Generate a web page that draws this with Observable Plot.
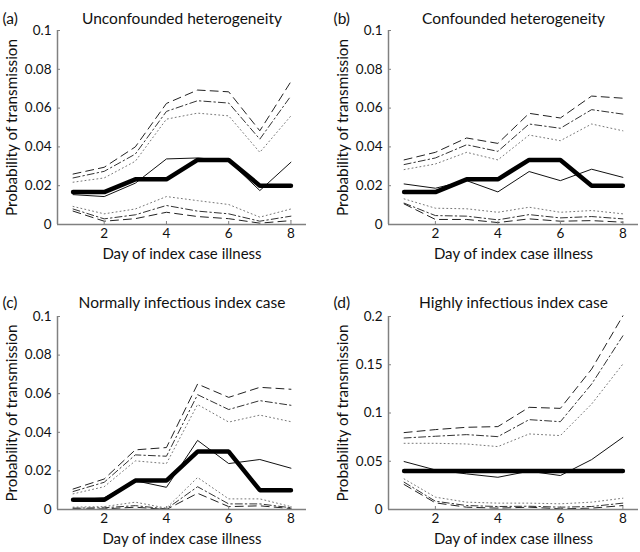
<!DOCTYPE html>
<html>
<head>
<meta charset="utf-8">
<script src="https://cdn.jsdelivr.net/npm/d3@7"></script>
<script src="https://cdn.jsdelivr.net/npm/@observablehq/plot@0.6"></script>
<style>
  html, body { margin: 0; padding: 0; background: #fff; }
  #wrap { position: relative; width: 640px; height: 552px; }
  #wrap > div { position: absolute; }
</style>
</head>
<body>
<div id="wrap">
  <div id="pa" style="left:0;top:0"></div>
  <div id="pb" style="left:331px;top:0"></div>
  <div id="pc" style="left:0;top:276px"></div>
  <div id="pd" style="left:331px;top:276px"></div>
</div>
<script>
const days = [1, 2, 3, 4, 5, 6, 7, 8];
const xTicks = [2, 4, 6, 8];
const yTicksLow = [0, 0.02, 0.04, 0.06, 0.08, 0.1];
const yTicksHigh = [0, 0.05, 0.1, 0.15, 0.2];

// (a) Unconfounded heterogeneity
const aTrue      = [0.0167, 0.0167, 0.0233, 0.0233, 0.0333, 0.0333, 0.020, 0.020];
const aEst       = [0.0154, 0.0144, 0.0213, 0.0338, 0.0343, 0.0329, 0.0175, 0.0321];
const aUpDash    = [0.0260, 0.0295, 0.0400, 0.0624, 0.0693, 0.0684, 0.0483, 0.0737];
const aUpDashDot = [0.0240, 0.0274, 0.0363, 0.0583, 0.0638, 0.0626, 0.0440, 0.0663];
const aUpDot     = [0.0218, 0.0240, 0.0326, 0.0543, 0.0574, 0.0560, 0.0372, 0.0560];
const aLoDot     = [0.0093, 0.0055, 0.0080, 0.0144, 0.0123, 0.0103, 0.0038, 0.0080];
const aLoDashDot = [0.0080, 0.0029, 0.0050, 0.0098, 0.0069, 0.0055, 0.0017, 0.0043];
const aLoDash    = [0.0069, 0.0017, 0.0030, 0.0063, 0.0041, 0.0030, 0.0007, 0.0020];

// (b) Confounded heterogeneity
const bTrue      = [0.0167, 0.0167, 0.0233, 0.0233, 0.0333, 0.0333, 0.020, 0.020];
const bEst       = [0.0209, 0.0187, 0.0226, 0.0168, 0.0273, 0.0226, 0.0285, 0.0243];
const bUpDash    = [0.0333, 0.0372, 0.0446, 0.0418, 0.0573, 0.0549, 0.0662, 0.0651];
const bUpDashDot = [0.0309, 0.0343, 0.0411, 0.0377, 0.0518, 0.0496, 0.0592, 0.0569];
const bUpDot     = [0.0283, 0.0312, 0.0372, 0.0333, 0.0461, 0.0432, 0.0518, 0.0483];
const bLoDot     = [0.0132, 0.0084, 0.0081, 0.0063, 0.0089, 0.0063, 0.0072, 0.0055];
const bLoDashDot = [0.0110, 0.0046, 0.0043, 0.0024, 0.0051, 0.0034, 0.0041, 0.0029];
const bLoDash    = [0.0106, 0.0026, 0.0026, 0.0010, 0.0029, 0.0017, 0.0020, 0.0012];

// (c) Normally infectious index case
const cTrue      = [0.005, 0.005, 0.015, 0.015, 0.030, 0.030, 0.010, 0.010];
const cEst       = [0.0050, 0.0060, 0.0149, 0.0115, 0.0358, 0.0238, 0.0259, 0.0214];
const cUpDash    = [0.0106, 0.0158, 0.0309, 0.0321, 0.0650, 0.0581, 0.0633, 0.0623];
const cUpDashDot = [0.0093, 0.0141, 0.0283, 0.0276, 0.0595, 0.0518, 0.0564, 0.0540];
const cUpDot     = [0.0081, 0.0118, 0.0252, 0.0238, 0.0544, 0.0453, 0.0489, 0.0455];
const cLoDot     = [0.0012, 0.0015, 0.0038, 0.0007, 0.0166, 0.0055, 0.0055, 0.0015];
const cLoDashDot = [0.0007, 0.0009, 0.0020, 0.0003, 0.0118, 0.0029, 0.0029, 0.0009];
const cLoDash    = [0.0003, 0.0003, 0.0012, 0.0000, 0.0084, 0.0015, 0.0019, 0.0005];

// (d) Highly infectious index case
const dTrue      = [0.04, 0.04, 0.04, 0.04, 0.04, 0.04, 0.04, 0.04];
const dEst       = [0.0497, 0.0410, 0.0369, 0.0334, 0.0397, 0.0352, 0.0517, 0.0748];
const dUpDash    = [0.0797, 0.0828, 0.0852, 0.0859, 0.1059, 0.1048, 0.1455, 0.2007];
const dUpDashDot = [0.0741, 0.0759, 0.0776, 0.0755, 0.0931, 0.0910, 0.1300, 0.1800];
const dUpDot     = [0.0686, 0.0686, 0.0679, 0.0652, 0.0783, 0.0766, 0.1093, 0.1507];
const dLoDot     = [0.0317, 0.0128, 0.0076, 0.0066, 0.0066, 0.0059, 0.0076, 0.0117];
const dLoDashDot = [0.0283, 0.0086, 0.0041, 0.0031, 0.0034, 0.0024, 0.0031, 0.0066];
const dLoDash    = [0.0259, 0.0069, 0.0024, 0.0014, 0.0024, 0.0007, 0.0014, 0.0041];

const panels = [
  {id: "pa", tag: "(a)", title: "Unconfounded heterogeneity", top: true, left: true, yMax: 0.1, yTicks: yTicksLow,
   s: [aTrue, aEst, aUpDash, aUpDashDot, aUpDot, aLoDot, aLoDashDot, aLoDash]},
  {id: "pb", tag: "(b)", title: "Confounded heterogeneity", top: true, left: false, yMax: 0.1, yTicks: yTicksLow,
   s: [bTrue, bEst, bUpDash, bUpDashDot, bUpDot, bLoDot, bLoDashDot, bLoDash]},
  {id: "pc", tag: "(c)", title: "Normally infectious index case", top: false, left: true, yMax: 0.1, yTicks: yTicksLow,
   s: [cTrue, cEst, cUpDash, cUpDashDot, cUpDot, cLoDot, cLoDashDot, cLoDash]},
  {id: "pd", tag: "(d)", title: "Highly infectious index case", top: false, left: false, yMax: 0.2, yTicks: yTicksHigh,
   s: [dTrue, dEst, dUpDash, dUpDashDot, dUpDot, dLoDot, dLoDashDot, dLoDash]}
];

const styles = {
  dash:    {stroke: "#222", strokeWidth: 1, strokeDasharray: "8,5"},
  dashdot: {stroke: "#333", strokeWidth: 1, strokeDasharray: "7,3,1.5,3"},
  dot:     {stroke: "#777", strokeWidth: 1, strokeDasharray: "1,3"}
};

const FONT = "Lato, 'Open Sans', sans-serif";
const AXIS = "#808080";

function rows(arr) { return days.map((d, i) => ({day: d, p: arr[i]})); }

for (const P of panels) {
  const [tru, est, upDash, upDashDot, upDot, loDot, loDashDot, loDash] = P.s;
  const width = P.left ? 331 : 309;
  const mt = P.top ? 30 : 40;
  const mb = P.top ? 52 : 43;
  const line = (arr, o) => Plot.line(rows(arr), {x: "day", y: "p", strokeLinejoin: "miter", ...o});
  const chart = Plot.plot({
    width, height: 276,
    marginLeft: 57, marginRight: P.left ? 25 : 2, marginTop: mt, marginBottom: mb,
    style: {fontFamily: FONT, fontSize: "13.5px", background: "white", color: "#111", overflow: "visible"},
    x: {domain: [0.5, 8.5]},
    y: {domain: [0, P.yMax]},
    marks: [
      line(upDash, styles.dash),
      line(upDashDot, styles.dashdot),
      line(upDot, styles.dot),
      line(loDot, styles.dot),
      line(loDashDot, styles.dashdot),
      line(loDash, styles.dash),
      line(est, {stroke: "#111", strokeWidth: 1}),
      line(tru, {stroke: "#000", strokeWidth: 4.5}),
      Plot.ruleX([0.5], {stroke: AXIS, strokeWidth: 1.5}),
      Plot.ruleY([0], {stroke: AXIS, strokeWidth: 1.5}),
      Plot.axisX({ticks: xTicks, tickSize: -3, tickPadding: 7, stroke: AXIS, color: "#111", label: null, fontSize: 13.5}),
      Plot.axisY({ticks: P.yTicks, tickSize: -3, tickPadding: 9, stroke: AXIS, color: "#111", label: null,
                  tickFormat: d => String(d), fontSize: 13.5}),
      Plot.text(["Day of index case illness"], {frameAnchor: "bottom", dy: 34, fontSize: 15, fill: "#111"}),
      Plot.text(["Probability of transmission"], {frameAnchor: "left", textAnchor: "middle", rotate: -90, dx: -45, fontSize: 15.3, fill: "#111"}),
      Plot.text([P.title], {frameAnchor: "top", dy: P.top ? -18 : -20, fontSize: 15.5, fill: "#111"}),
      Plot.text([P.tag], {frameAnchor: "top-left", textAnchor: "start", dx: -55, dy: P.top ? -18 : -20, fontSize: 15.5, fill: "#111"})
    ]
  });
  document.getElementById(P.id).appendChild(chart);
}
</script>
</body>
</html>
